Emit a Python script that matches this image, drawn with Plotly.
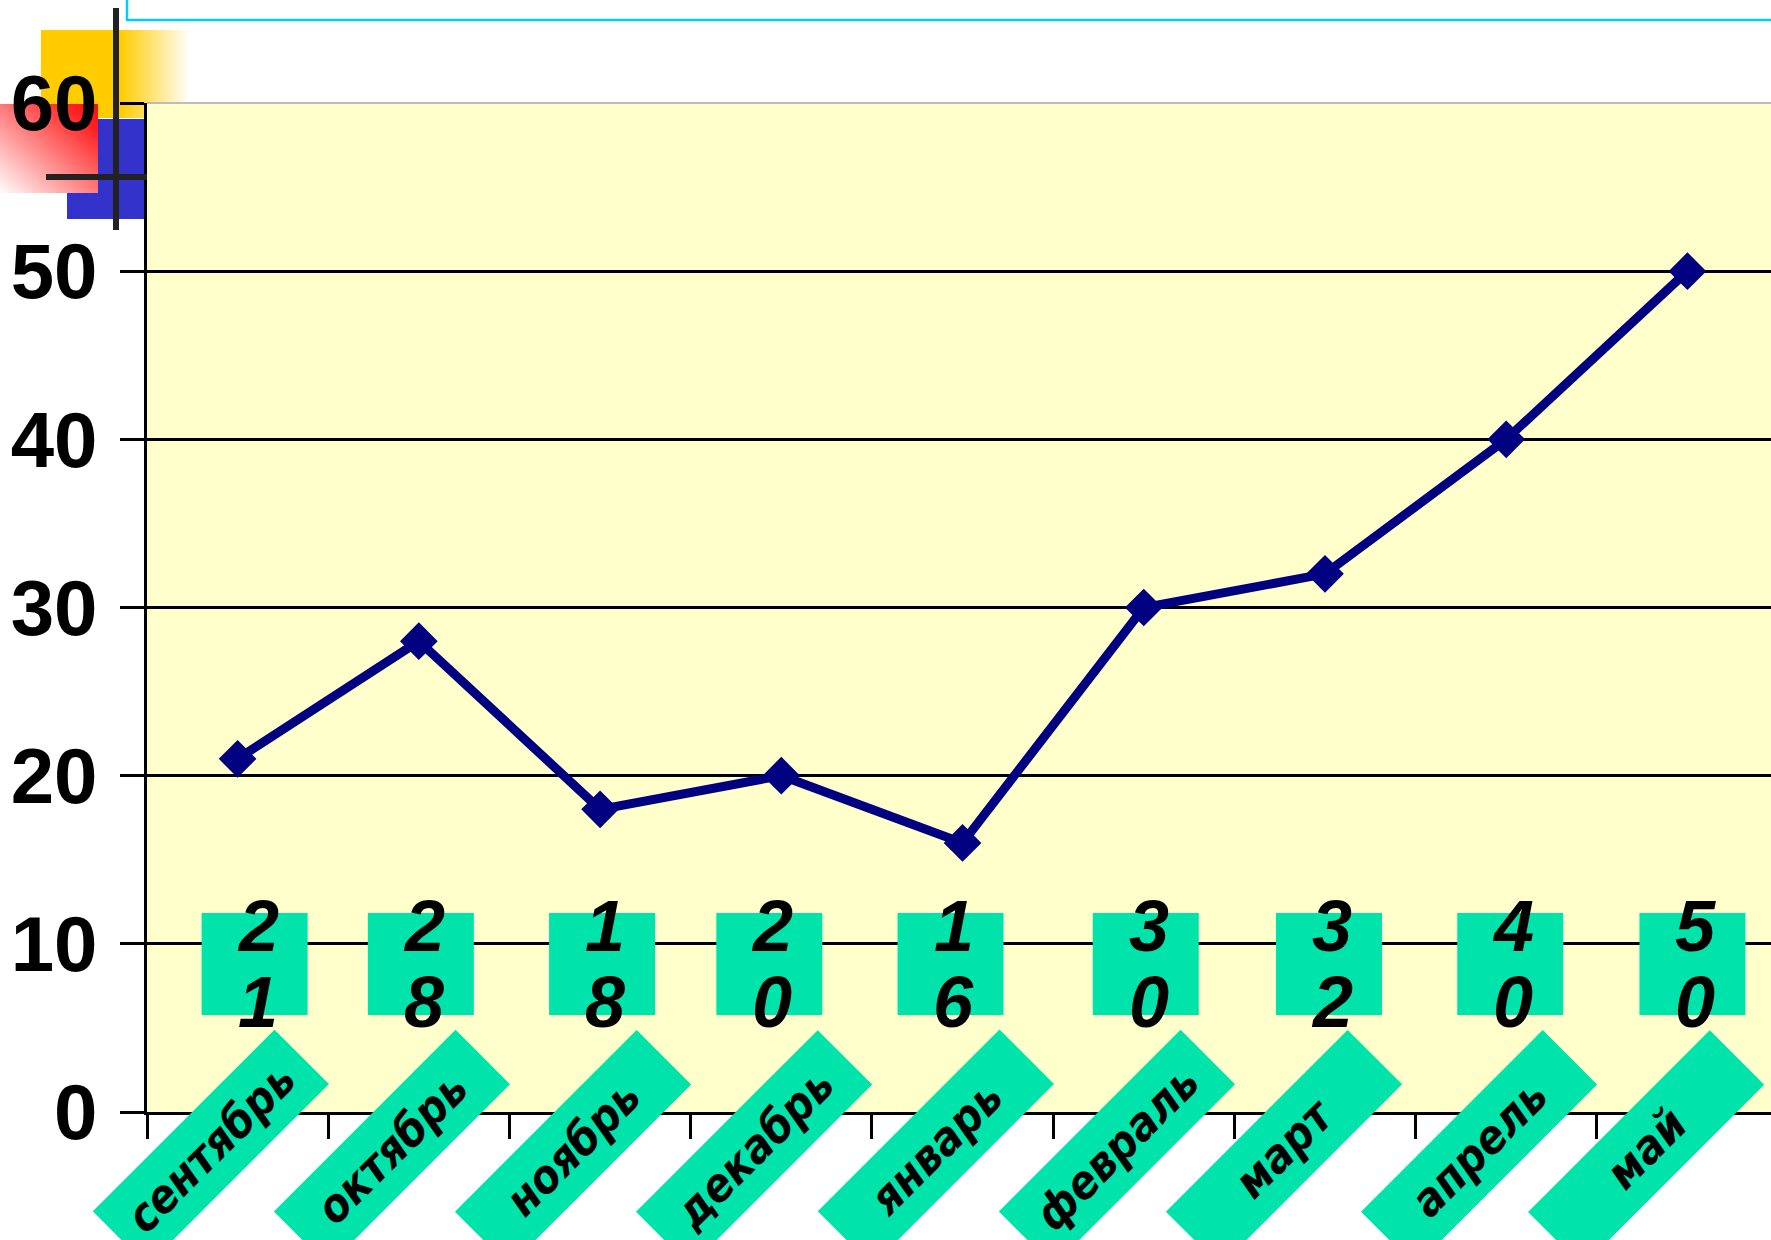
import base64
import plotly.graph_objects as go

# ---- data ----
months = ["сентябрь", "октябрь", "ноябрь", "декабрь", "январь",
          "февраль", "март", "апрель", "май"]
values = [21, 28, 18, 20, 16, 30, 32, 40, 50]
y_ticks = [0, 10, 20, 30, 40, 50, 60]

# ---- layout constants (pixels) ----
W, H = 1771, 1240
L, R, T, B = 147, 0, 103, 128
PW = W - L - R
PH = H - T - B
CAT_PX = PW / 8.961
# horizontal nudges of the value-label boxes relative to their category (as placed on the slide)
LABEL_NUDGE_PX = [17, 2, 2, -12, -12, 2, 4, 4, 5]
# horizontal nudges of the rotated month-label boxes
MONTH_NUDGE_PX = [-27, -27, -27, -27, -27, -27, -41, -27, -41]


def px_x(px):
    return (px - L) / PW


def px_y(py):
    return (H - B - py) / PH


def svg_uri(svg):
    return "data:image/svg+xml;base64," + base64.b64encode(svg.encode("utf-8")).decode()


GREEN = "#00E3AA"
NAVY = "#000080"
PLOT_BG = "#FFFFCC"

yellow_svg = ('<svg xmlns="http://www.w3.org/2000/svg" width="149" height="88" viewBox="0 0 149 88" '
              'preserveAspectRatio="none"><defs><linearGradient id="g" x1="0" y1="0" x2="1" y2="0">'
              '<stop offset="0.53" stop-color="#FFCC00" stop-opacity="1"/>'
              '<stop offset="1" stop-color="#FFCC00" stop-opacity="0"/></linearGradient></defs>'
              '<rect width="149" height="88" fill="url(#g)"/></svg>')
blue_svg = ('<svg xmlns="http://www.w3.org/2000/svg" width="80" height="100" viewBox="0 0 80 100" '
            'preserveAspectRatio="none"><rect width="80" height="100" fill="#3333CC"/></svg>')
red_svg = ('<svg xmlns="http://www.w3.org/2000/svg" width="98" height="89" viewBox="0 0 98 89" '
           'preserveAspectRatio="none"><defs><linearGradient id="r" x1="1" y1="0" x2="0" y2="1">'
           '<stop offset="0" stop-color="#FF0C0C"/><stop offset="0.15" stop-color="#FF2020"/>'
           '<stop offset="1" stop-color="#FFFFFF"/>'
           '</linearGradient></defs><rect width="98" height="89" fill="url(#r)"/></svg>')


def img(svg, x0, y0, x1, y1):
    return dict(source=svg_uri(svg), xref="paper", yref="paper",
                x=px_x(x0), y=px_y(y0), sizex=(x1 - x0) / PW, sizey=(y1 - y0) / PH,
                xanchor="left", yanchor="top", sizing="stretch", layer="below")


images = [
    img(yellow_svg, 41, 30, 190, 118),
    img(blue_svg, 67, 119, 147, 219),
    img(red_svg, -2, 104, 98, 193),
]

shapes = [
    # plot area background (covers decorative images)
    dict(type="rect", xref="paper", yref="paper", x0=0, x1=1.01, y0=0, y1=1,
         fillcolor=PLOT_BG, line=dict(width=0), layer="below"),
    # gray top border of plot area
    dict(type="line", xref="paper", yref="paper", x0=0, x1=1.01, y0=1, y1=1,
         line=dict(color="#BDBDBD", width=2), layer="above"),
    # black cross
    dict(type="rect", xref="paper", yref="paper", x0=px_x(113), x1=px_x(119),
         y0=px_y(230), y1=px_y(8), fillcolor="#222222", line=dict(width=0), layer="above"),
    dict(type="rect", xref="paper", yref="paper", x0=px_x(46), x1=px_x(147),
         y0=px_y(180), y1=px_y(174), fillcolor="#222222", line=dict(width=0), layer="above"),
    # cyan framed box at top
    dict(type="rect", xref="paper", yref="paper", x0=px_x(127), x1=px_x(1800),
         y0=px_y(20), y1=px_y(-10), fillcolor="white",
         line=dict(color="#00CCFF", width=2.5), layer="above"),
]

BOX_HALF = 53 / CAT_PX
for i, (v, nudge) in enumerate(zip(values, LABEL_NUDGE_PX)):
    off = nudge / CAT_PX
    shapes.append(dict(type="rect", xref="x", yref="y",
                       x0=i + off - BOX_HALF, x1=i + off + BOX_HALF,
                       y0=5.77, y1=11.83, fillcolor=GREEN, line=dict(width=0), layer="above"))

annotations = []
for m, v, nudge, mnudge in zip(months, values, LABEL_NUDGE_PX, MONTH_NUDGE_PX):
    s = str(v)
    for digit, yy in zip(s, [11.09, 6.54]):
        annotations.append(dict(x=m, xref="x", y=yy, yref="y", text=digit, showarrow=False,
                                xanchor="center", yanchor="middle", xshift=nudge + 3,
                                font=dict(family="Liberation Sans", size=72, color="black",
                                          weight="bold", style="italic")))
    annotations.append(dict(x=m, xref="x", y=px_y(1148), yref="paper", text=m, showarrow=False,
                            xanchor="center", yanchor="middle", xshift=mnudge, textangle=-45,
                            width=256, height=76, bgcolor=GREEN, borderpad=0,
                            font=dict(family="DejaVu Sans Condensed, DejaVu Sans",
                                      size=46, color="black", weight="bold", style="italic")))

fig = go.Figure()
fig.add_trace(go.Scatter(
    x=months, y=values, mode="lines+markers",
    line=dict(color=NAVY, width=9),
    marker=dict(symbol="diamond", size=29, color=NAVY),
    cliponaxis=False, showlegend=False, hoverinfo="skip",
))

fig.update_layout(
    width=W, height=H,
    margin=dict(l=L, r=R, t=T, b=B, pad=0, autoexpand=False),
    paper_bgcolor="white",
    plot_bgcolor=PLOT_BG,
    showlegend=False,
    images=images,
    shapes=shapes,
    annotations=annotations,
    xaxis=dict(type="category", range=[-0.5, 8.461], showgrid=False, zeroline=False,
               automargin=False,
               showline=True, linecolor="black", linewidth=3,
               ticks="outside", ticklen=24, tickwidth=3, tickcolor="black",
               tickson="boundaries", showticklabels=False),
    yaxis=dict(range=[0, 60], tickvals=y_ticks, showgrid=True, gridcolor="black", gridwidth=3,
               automargin=False,
               zeroline=False, showline=True, linecolor="black", linewidth=3,
               ticks="outside", ticklen=24, tickwidth=3, tickcolor="black",
               ticklabelstandoff=7,
               tickfont=dict(family="Liberation Sans", size=78, color="black", weight="bold")),
)

fig.write_html("out.html", config={"displayModeBar": False},
               post_script="document.body.style.margin='0';document.body.style.overflow='hidden';")
